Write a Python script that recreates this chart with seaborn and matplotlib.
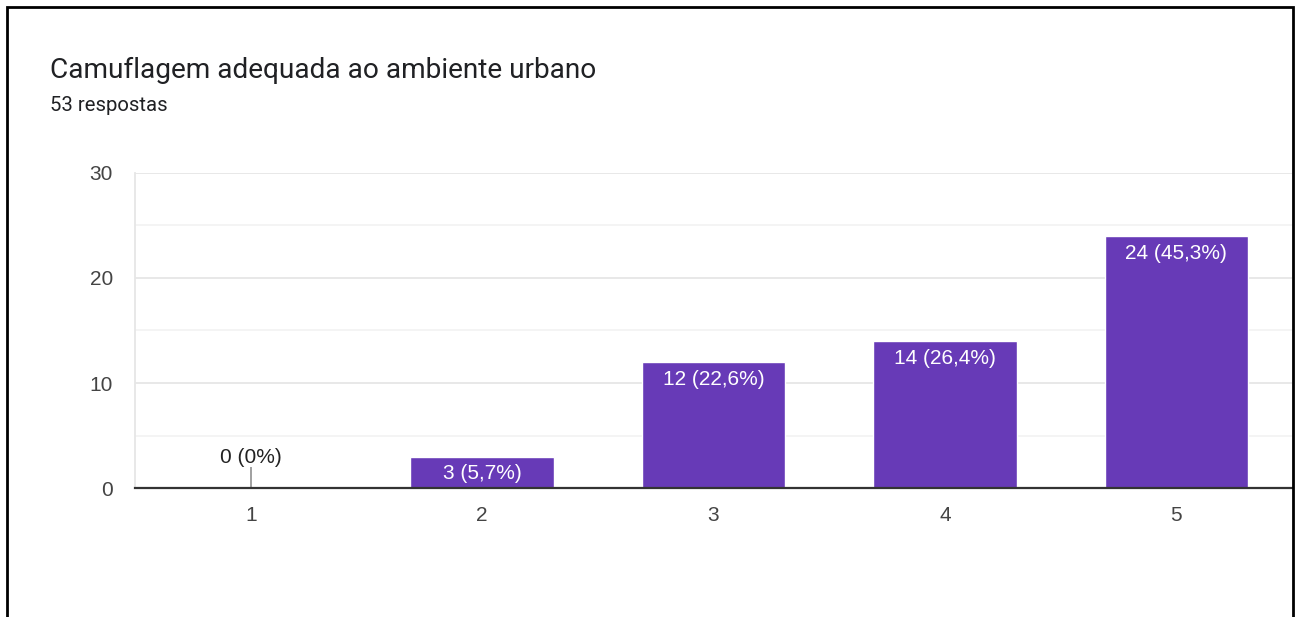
import matplotlib
matplotlib.use("Agg")
import matplotlib.pyplot as plt
import seaborn as sns
import pandas as pd
from matplotlib.patches import Rectangle

categories = ["1", "2", "3", "4", "5"]
counts = [0, 3, 12, 14, 24]
total = 53
title = "Camuflagem adequada ao ambiente urbano"
subtitle = "53 respostas"
yticks = [0, 10, 20, 30]

sns.set_theme(style="white")
plt.rcParams["font.family"] = ["Liberation Sans", "DejaVu Sans"]

df = pd.DataFrame({"cat": categories, "n": counts})

fig = plt.figure(figsize=(12.98, 6.17), dpi=100)
ax = fig.add_axes([0.104, 0.209, 0.8914, 0.5107])

sns.barplot(data=df, x="cat", y="n", color="#673AB7", saturation=1, width=0.62, ax=ax, zorder=3)

ax.set_xlim(-0.5, 4.5)
ax.set_ylim(0, 30)
ax.set_yticks(yticks)
ax.set_yticks([5, 15, 25], minor=True)
ax.grid(axis="y", which="major", color="#e6e6e6", linewidth=1.3, zorder=0)
ax.grid(axis="y", which="minor", color="#f3f3f3", linewidth=1.3, zorder=0)
ax.set_xlabel("")
ax.set_ylabel("")
for s in ["top", "right"]:
    ax.spines[s].set_visible(False)
ax.spines["left"].set_color("#e6e6e6")
ax.spines["left"].set_linewidth(1.3)
ax.spines["bottom"].set_color("#333333")
ax.spines["bottom"].set_linewidth(1.6)
ax.spines["bottom"].set_zorder(5)
ax.tick_params(axis="both", length=0, labelsize=15, labelcolor="#444444")
ax.tick_params(axis="y", pad=16)
ax.tick_params(axis="x", pad=13)

for i, v in enumerate(counts):
    pct = v / total * 100
    if v == 0:
        lab = f"{v} (0%)"
        ax.vlines(i, 0, 2, color="#999999", linewidth=1.3, zorder=4)
        ax.text(i, 2.0, lab, ha="center", va="bottom", fontsize=15, color="#222222")
    else:
        lab = f"{v} ({pct:.1f}%)".replace(".", ",")
        ax.text(i, v - 0.75, lab, ha="center", va="top", fontsize=15, color="white", zorder=6)

fig.text(50 / 1298, 1 - 70 / 617, title, ha="left", va="center", fontsize=20.2,
         color="#202124", family=["Roboto", "DejaVu Sans"])
fig.text(50 / 1298, 1 - 106 / 617, subtitle, ha="left", va="center", fontsize=14.6,
         color="#202124", family=["Roboto", "DejaVu Sans"])

fig.patches.append(Rectangle((7 / 1298, -0.05), (1293 - 7) / 1298, 1.05 - 7 / 617,
                             transform=fig.transFigure, fill=False, edgecolor="black",
                             linewidth=2, clip_on=False))

fig.savefig("out.png", dpi=100)
